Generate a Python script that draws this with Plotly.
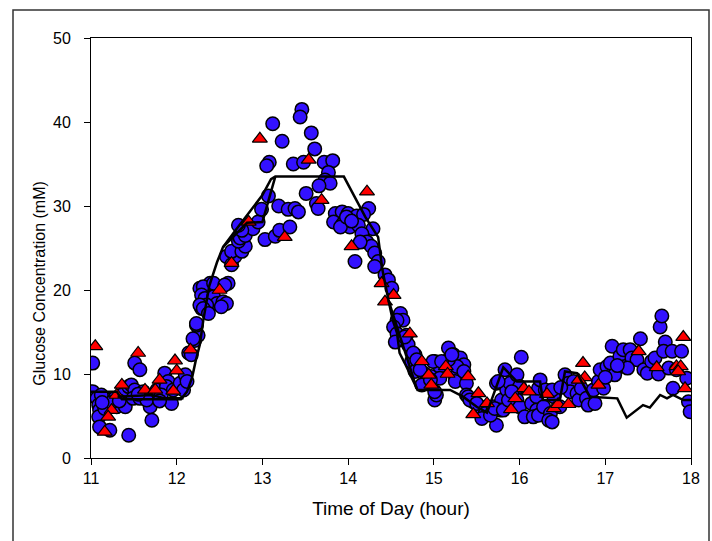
import plotly.graph_objects as go

# ---- data ----
circle_x = [
    11.02, 11.02, 11.07, 11.09, 11.10, 11.09, 11.10, 11.22, 11.16, 11.20, 11.28, 11.30, 11.40, 11.36,
    11.44, 11.47, 11.51, 11.49, 11.51, 11.57, 11.57, 11.61, 11.69, 11.71, 11.44, 11.71, 11.77, 11.86,
    11.90, 11.88, 11.96, 11.94, 12.04, 12.10, 12.08, 12.12, 12.14, 12.17, 12.21, 12.25, 12.23, 11.82,
    11.65, 11.12, 11.24, 11.33, 11.55, 11.80, 11.13,
    12.23, 12.19, 12.29, 12.27, 12.35, 12.35, 12.39, 12.60, 12.58, 12.31, 12.29, 12.33, 12.43, 12.47,
    12.54, 12.58, 12.52, 12.35, 12.27, 12.31, 12.37, 12.43, 12.56, 12.64, 12.68, 12.64, 12.76, 12.80,
    12.72, 12.74, 12.80, 12.89, 12.76, 12.72, 12.95, 12.99, 13.07, 13.19, 13.30, 13.38, 13.42, 13.03,
    13.15, 13.20, 13.32,
    13.46, 13.44, 13.12, 13.57, 13.23, 13.61, 13.08, 13.05, 13.36, 13.48, 13.72, 13.82, 13.77, 13.73,
    13.79, 13.66, 13.51, 13.63, 13.65,
    14.08, 14.24, 14.29, 13.85, 13.93, 14.00, 14.10, 14.18, 13.83, 13.94, 14.02, 14.12, 14.16, 14.22,
    14.27, 14.31, 14.35, 13.91, 13.98, 14.04, 14.14, 14.31, 14.43, 14.47, 14.51,
    14.61, 14.64, 14.57, 14.53, 14.57, 14.68, 14.55, 14.70, 14.78, 14.74, 14.82, 14.78, 14.88, 14.92,
    14.97, 15.01, 15.07, 15.07, 15.01, 15.03, 15.17, 15.23, 15.31, 15.35, 15.25, 15.25, 15.27, 15.17,
    15.38, 15.38, 15.46, 15.54, 15.62, 15.73, 14.66, 14.76, 14.80, 14.84, 14.86, 14.96, 15.01, 14.99,
    15.09, 15.21, 15.35, 15.40, 15.42, 15.50, 15.60, 15.69, 15.73, 15.79, 15.83, 15.85, 15.89, 15.95,
    15.97, 16.02, 15.97, 16.00, 16.06, 16.14, 16.20, 16.20, 16.16, 16.22, 15.77, 16.00,
    15.56, 15.66, 15.71, 15.75, 15.81, 15.87, 15.91, 16.24, 16.30, 16.22, 16.28, 16.36, 16.34, 16.38,
    16.40, 16.38, 16.47, 16.53, 16.57, 16.63, 16.59, 16.67, 16.69, 16.72, 16.78, 16.80, 16.88, 16.86,
    16.92, 16.94, 16.98, 17.02, 17.06, 17.08, 17.11, 17.17, 17.21, 17.23, 17.29, 17.31, 17.37, 17.41,
    17.45, 17.49, 17.54, 17.58, 17.62, 17.64, 17.66, 17.70, 17.68, 17.78, 17.74, 17.79, 17.89, 17.95,
    17.97, 17.99, 17.83, 17.26, 17.14, 17.00, 16.48,
]
circle_y = [
    11.3, 7.9, 7.1, 6.3, 5.7, 4.9, 3.7, 3.3, 5.9, 6.9, 7.1, 6.1, 6.1, 7.5,
    8.5, 8.7, 8.1, 7.1, 11.3, 10.5, 7.1, 7.9, 6.1, 4.5, 2.7, 7.3, 8.1, 10.1,
    9.1, 8.5, 8.1, 6.5, 8.9, 9.9, 8.1, 9.1, 12.5, 12.3, 14.0, 14.6, 15.8, 7.5,
    6.9, 7.5, 6.6, 6.8, 7.6, 6.8, 6.6,
    16.0, 14.2, 17.8, 20.2, 20.0, 18.8, 20.8, 20.8, 24.0, 20.4, 19.4, 19.0, 19.2, 18.4,
    18.6, 18.4, 18.0, 18.2, 18.2, 17.8, 17.2, 20.8, 20.6, 23.0, 24.0, 24.6, 24.6, 25.2,
    25.8, 26.2, 26.5, 27.3, 27.1, 27.7, 28.1, 29.6, 31.2, 30.0, 29.6, 29.7, 29.3, 26.0,
    26.4, 27.1, 27.5,
    41.5, 40.6, 39.8, 38.7, 37.7, 36.8, 35.2, 34.8, 35.0, 35.2, 35.2, 35.4, 34.0, 33.1,
    32.7, 32.4, 31.5, 30.3, 29.7,
    23.4, 29.7, 27.3, 29.1, 29.3, 29.1, 28.8, 29.0, 28.1, 27.9, 27.5, 27.7, 26.7, 25.7,
    25.2, 24.4, 23.4, 27.5, 28.7, 28.2, 25.7, 22.8, 21.8, 21.2, 20.2,
    17.2, 16.4, 16.4, 15.6, 14.8, 14.6, 13.8, 13.5, 12.3, 11.5, 10.9, 10.3, 10.1, 9.3,
    9.7, 11.5, 10.9, 9.5, 6.9, 7.5, 13.1, 12.3, 11.9, 11.1, 9.7, 9.1, 10.9, 11.7,
    8.9, 7.5, 6.7, 6.1, 5.5, 8.9, 14.4, 12.5, 11.7, 10.5, 8.7, 9.3, 7.9, 11.5,
    11.5, 12.3, 10.3, 7.3, 6.9, 6.5, 5.3, 6.1, 3.9, 6.9, 10.5, 8.1, 8.9, 7.7,
    9.9, 12.0, 6.9, 6.1, 4.9, 6.5, 7.3, 5.7, 4.9, 8.3, 5.7, 8.5,
    4.7, 5.1, 5.9, 9.1, 5.7, 6.9, 7.9, 9.3, 8.1, 5.1, 6.1, 5.3, 4.5, 4.3,
    7.3, 8.1, 6.1, 9.9, 8.9, 9.1, 7.9, 7.7, 6.9, 8.3, 7.1, 6.3, 6.5, 8.1,
    9.1, 10.5, 8.3, 10.9, 11.3, 13.3, 9.9, 12.1, 12.9, 10.9, 12.9, 11.9, 11.7, 14.2,
    10.5, 10.1, 11.5, 11.9, 10.0, 15.6, 16.9, 13.8, 12.7, 12.7, 10.7, 8.3, 12.7, 9.5,
    6.7, 5.5, 10.5, 10.7, 11.0, 9.6, 8.4,
]

tri_x = [
    11.05, 11.55, 11.36, 11.24, 11.20, 11.16, 11.63, 11.75, 11.80, 11.98, 12.00, 11.96, 12.16, 11.30,
    12.50, 12.64, 12.84, 13.26, 12.97, 13.54, 13.69, 14.22, 14.04, 14.39, 14.53, 14.43, 14.72, 14.86,
    14.94, 14.97, 15.14, 15.16, 15.40, 15.52, 15.62, 15.46, 15.90, 15.95, 16.05, 16.11, 16.32, 16.40,
    16.45, 16.57, 16.74, 16.76, 16.69, 16.92, 17.39, 17.60, 17.83, 17.88, 17.91, 17.93, 17.85,
]
tri_y = [
    13.3, 12.5, 8.7, 5.7, 4.9, 3.1, 8.1, 8.1, 9.3, 11.6, 10.4, 8.0, 12.9, 7.5,
    20.0, 23.2, 28.1, 26.3, 38.0, 35.5, 30.7, 31.7, 25.2, 20.8, 19.4, 18.6, 14.8, 11.5,
    9.9, 8.7, 10.9, 10.0, 9.7, 7.7, 6.5, 5.2, 5.8, 7.1, 8.3, 7.9, 7.6, 5.9,
    6.4, 6.4, 11.3, 9.6, 9.3, 8.7, 12.7, 10.8, 10.9, 10.9, 14.4, 8.3, 10.3,
]

lineA_x = [11.0, 11.3, 11.36, 11.8, 12.05, 12.12, 12.18, 12.22, 12.27, 12.31, 12.38, 12.47, 12.54,
           12.70, 12.85, 13.00, 13.10, 13.15, 13.95, 14.20, 14.35, 14.40, 14.47, 14.52, 14.57, 14.60,
           14.66, 14.81, 15.19, 15.34, 15.50, 15.62, 15.81, 15.97, 16.24, 16.27, 16.47, 16.53, 16.67,
           16.82, 17.14, 17.25, 17.44, 17.52, 17.64, 17.72, 17.79, 17.91, 18.0]
lineA_y = [7.9, 7.9, 7.0, 7.0, 7.0, 7.9, 9.6, 11.5, 13.5, 16.4, 20.5, 23.3, 25.1,
           27.3, 29.3, 31.3, 33.2, 33.5, 33.5, 28.7, 26.3, 22.4, 18.8, 16.4, 14.9, 12.5,
           11.3, 8.1, 8.1, 7.3, 6.1, 5.4, 10.8, 9.1, 9.1, 6.9, 6.9, 10.3, 10.1,
           7.3, 7.1, 4.8, 6.3, 6.0, 7.5, 7.1, 7.5, 6.9, 6.9]

lineB1_x = [11.31, 11.71, 11.86, 12.08]
lineB1_y = [7.3, 7.5, 7.1, 7.1]
lineB2_x = [12.54, 12.60, 12.82, 13.00, 13.15]
lineB2_y = [25.1, 25.7, 28.0, 28.1, 33.5]
lineB3_x = [14.47, 14.80]
lineB3_y = [18.8, 8.3]

x_ticks = [11, 12, 13, 14, 15, 16, 17, 18]
y_ticks = [0, 10, 20, 30, 40, 50]

FONT = "Liberation Sans, Arial, sans-serif"

fig = go.Figure()
fig.add_trace(go.Scatter(x=circle_x, y=circle_y, mode="markers",
                         marker=dict(symbol="circle", size=13.5, color="#3311FF",
                                     line=dict(color="black", width=1.5)),
                         showlegend=False))
fig.add_trace(go.Scatter(x=tri_x, y=tri_y, mode="markers",
                         marker=dict(symbol="triangle-up", size=13, color="#FF0000",
                                     line=dict(color="black", width=1.2)),
                         showlegend=False))
for lx, ly in [(lineA_x, lineA_y), (lineB1_x, lineB1_y), (lineB2_x, lineB2_y), (lineB3_x, lineB3_y)]:
    fig.add_trace(go.Scatter(x=lx, y=ly, mode="lines",
                             line=dict(color="black", width=2.5),
                             showlegend=False))

fig.update_layout(
    width=712, height=541,
    margin=dict(l=91, r=21, t=38, b=83),
    paper_bgcolor="white", plot_bgcolor="white",
    font=dict(family=FONT, color="black", size=15),
    xaxis=dict(range=[11, 18], tickvals=x_ticks, ticks="outside", ticklen=6, tickwidth=1,
               tickcolor="black", showline=True, linecolor="black", linewidth=1, mirror=True,
               showgrid=False, zeroline=False, tickfont=dict(size=16),
               title=dict(text="Time of Day (hour)", font=dict(size=19), standoff=15)),
    yaxis=dict(range=[0, 50], tickvals=y_ticks, ticks="outside", ticklen=6, tickwidth=1,
               tickcolor="black", showline=True, linecolor="black", linewidth=1, mirror=True,
               showgrid=False, zeroline=False, tickfont=dict(size=16), ticklabelstandoff=10),
    annotations=[dict(text="Glucose Concentration (mM)", xref="paper", yref="paper",
                      x=-0.085, y=0.415, xanchor="center", yanchor="middle", textangle=-90,
                      showarrow=False, font=dict(size=16))],
    shapes=[dict(type="rect", xref="paper", yref="paper", x0=-0.13, x1=1.03, y0=-0.3, y1=1.0667,
                 line=dict(color="#333333", width=1.5), fillcolor="rgba(0,0,0,0)", layer="below")],
)

fig.write_html("out.html")
